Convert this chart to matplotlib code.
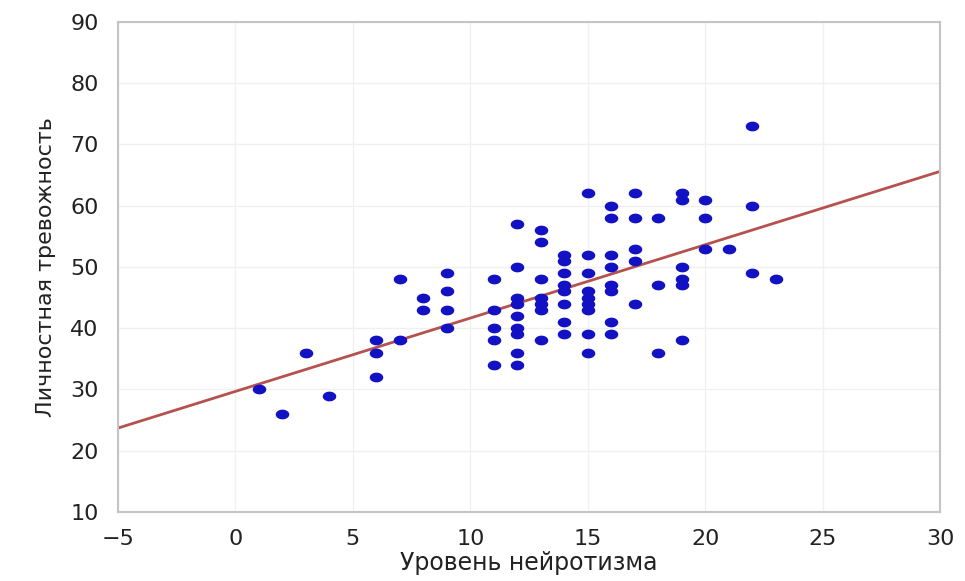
import numpy as np
import matplotlib
matplotlib.use("Agg")
import matplotlib.pyplot as plt
from matplotlib.path import Path

# neuroticism level (x) and trait anxiety (y)
neuro = [1, 2, 3, 4,
         6, 6, 6,
         7, 7,
         8, 8,
         9, 9, 9, 9,
         11, 11, 11, 11, 11,
         12, 12, 12, 12, 12, 12, 12, 12, 12,
         13, 13, 13, 13, 13, 13, 13,
         14, 14, 14, 14, 14, 14, 14, 14,
         15, 15, 15, 15, 15, 15, 15, 15, 15,
         16, 16, 16, 16, 16, 16, 16, 16,
         17, 17, 17, 17, 17,
         18, 18, 18,
         19, 19, 19, 19, 19, 19,
         20, 20, 20,
         21,
         22, 22, 22,
         23]
anxiety = [30, 26, 36, 29,
           38, 36, 32,
           48, 38,
           45, 43,
           49, 46, 43, 40,
           48, 43, 40, 38, 34,
           57, 50, 45, 44, 42, 40, 39, 36, 34,
           56, 54, 48, 45, 44, 43, 38,
           52, 51, 49, 47, 46, 44, 41, 39,
           62, 52, 49, 46, 45, 44, 43, 39, 36,
           60, 58, 52, 50, 47, 46, 41, 39,
           62, 58, 53, 51, 44,
           58, 47, 36,
           62, 61, 50, 48, 47, 38,
           61, 58, 53,
           53,
           73, 60, 49,
           48]

# trend line end points
line_x = [-5, 30]
line_y = [23.7, 65.6]

xticks = [-5, 0, 5, 10, 15, 20, 25, 30]
yticks = [10, 20, 30, 40, 50, 60, 70, 80, 90]

fig = plt.figure(figsize=(9.65, 5.81), dpi=100)
ax = fig.add_axes([0.1223, 0.1188, 0.8518, 0.8434])

t = np.linspace(0, 2 * np.pi, 40)
ell = Path(np.column_stack([np.cos(t), 0.72 * np.sin(t)]))

ax.plot(line_x, line_y, color="#b5524f", lw=2, zorder=2)
ax.scatter(neuro, anxiety, marker=ell, s=95, color="#1212c4", lw=0, zorder=3)

ax.set_xlim(-5, 30)
ax.set_ylim(10, 90)
ax.set_xticks(xticks)
ax.set_yticks(yticks)
ax.grid(True, color="#f0f0f0", lw=1)
ax.set_axisbelow(True)
for s in ax.spines.values():
    s.set_color("#c4c4c4")
    s.set_linewidth(1.5)
ax.tick_params(axis="x", length=0, labelsize=16, colors="#222222", pad=12)
ax.tick_params(axis="y", length=0, labelsize=16, colors="#222222", pad=14)

ax.set_xlabel("Уровень нейротизма", fontsize=17, color="#222222", labelpad=2)
ax.set_ylabel("Личностная тревожность", fontsize=16, color="#222222", labelpad=10)

fig.savefig("out.png", dpi=100)
